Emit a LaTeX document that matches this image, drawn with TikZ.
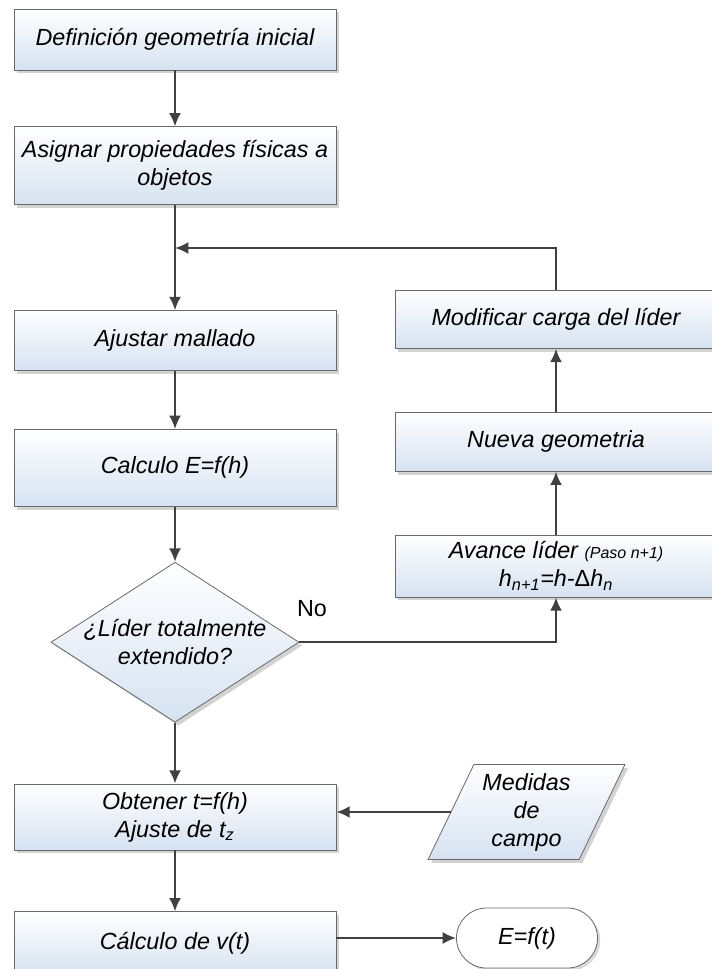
\documentclass[tikz,border=0pt]{standalone}
\usepackage{fontspec}
\setmainfont{Liberation Sans}
\usepackage{xcolor}
\usepackage{tikz}
\usetikzlibrary{shapes,arrows.meta,positioning,shadows}

\definecolor{boxblue}{RGB}{214,226,241}
\definecolor{linegray}{RGB}{64,64,64}
\definecolor{edgegray}{RGB}{105,105,105}

\begin{document}
\begin{tikzpicture}[x=0.75pt, y=-0.75pt,
    process/.style={rectangle, draw=edgegray, line width=0.6pt, top color=white, bottom color=boxblue, text centered, align=center, font=\itshape\fontsize{17.5}{21}\selectfont, minimum width=241.5pt, drop shadow={shadow xshift=2.5pt, shadow yshift=-2.5pt, fill=black!35}},
    decision/.style={process, diamond, minimum width=186pt, minimum height=120pt, aspect=1.55, inner sep=-3pt},
    data/.style={process, trapezium, trapezium left angle=64, trapezium right angle=116, trapezium stretches=true, minimum width=147.75pt, minimum height=71.25pt},
    term/.style={rounded rectangle, draw=edgegray, line width=0.6pt, fill=white, font=\itshape\fontsize{17.5}{21}\selectfont, minimum width=112.5pt, minimum height=45pt, drop shadow={shadow xshift=2pt, shadow yshift=-2pt, fill=black!30}},
    arrow/.style={draw, line width=1.6pt, color=linegray, -{Latex[length=10pt,width=9pt]}},
    lbl/.style={font=\fontsize{17.5}{21}\selectfont}
]
    \useasboundingbox (0,0) rectangle (711,969);

    % Nodes (main column)
    \node[process, minimum height=45.75pt] (geom) at (175,39.5) {Definición geometría inicial};
    \node[process, minimum height=58.5pt, below=42pt of geom] (props) {Asignar propiedades físicas a\\objetos};
    \node[process, minimum height=45pt, below=78.75pt of props] (mesh) {Ajustar mallado};
    \node[process, minimum height=57.75pt, below=43.5pt of mesh] (calcE) {Calculo E=f(h)};
    \node[decision, below=41.25pt of calcE] (done) {¿Líder totalmente\\extendido?};
    \node[process, minimum height=49.5pt, below=45.75pt of done] (fit) {Obtener t=f(h)\\Ajuste de t\textsubscript{z}};
    \node[process, minimum height=48pt, below=45.75pt of fit] (calcv) {Cálculo de v(t)};

    % Nodes (loop column)
    \node[process, minimum height=46.5pt] (adv) at (556,566) {Avance líder {\fontsize{12}{14}\selectfont(Paso n+1)}\\h\textsubscript{n+1}=h-{\upshape Δ}h\textsubscript{n}};
    \node[process, minimum height=44.25pt, above=47.25pt of adv] (newgeo) {Nueva geometria};
    \node[process, minimum height=43.5pt, above=47.25pt of newgeo] (charge) {Modificar carga del líder};

    \node[data] (meas) at (526.5,812) {Medidas\\de\\campo};
    \node[term] (res) at (527,938) {E=f(t)};
    \node[lbl] (no) at (312,609) {No};
    \coordinate (back) at (556,248);

    % Arrows
    \path [arrow] (geom) -- (props);
    \path [arrow] (props) -- (mesh);
    \path [arrow] (mesh) -- (calcE);
    \path [arrow] (calcE) -- (done);
    \path [arrow] (done) -- (fit);
    \path [arrow] (fit) -- (calcv);
    \path [arrow] (done.east) -| (adv.south);
    \path [arrow] (adv) -- (newgeo);
    \path [arrow] (newgeo) -- (charge);
    \path [arrow] (charge.north) -- (back) -- (back -| props.south);
    \path [arrow] (meas.west) -- (fit.east |- meas.west);
    \path [arrow] (calcv.east |- res.west) -- (res.west);
\end{tikzpicture}
\end{document}
